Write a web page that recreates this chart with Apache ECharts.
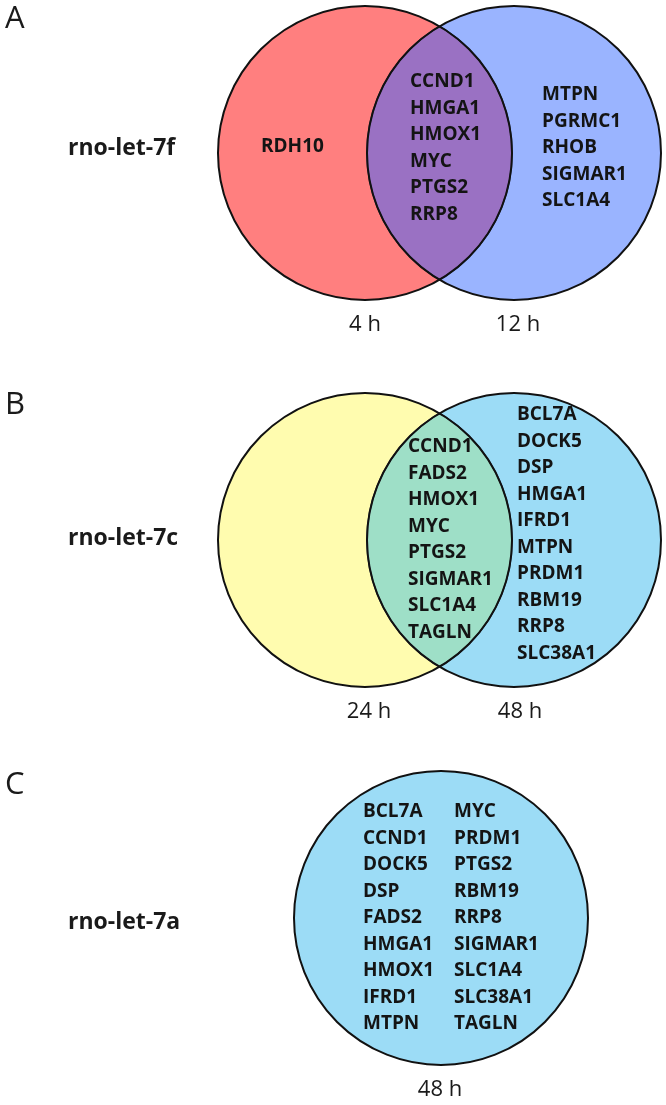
<!DOCTYPE html>
<html>
<head>
<meta charset="utf-8">
<script src="https://cdn.jsdelivr.net/npm/echarts@6/dist/echarts.min.js"></script>
<style>
html, body { margin: 0; padding: 0; background: #fff; }
#venn { width: 666px; height: 1105px; }
</style>
</head>
<body>
<div id="venn"></div>
<script>
// ---- data ----
// A: rno-let-7f, 4 h vs 12 h
var mirnaA = "rno-let-7f";
var setsA = ["4 h", "12 h"];
var only4h = ["RDH10"];
var shared4h12h = ["CCND1", "HMGA1", "HMOX1", "MYC", "PTGS2", "RRP8"];
var only12h = ["MTPN", "PGRMC1", "RHOB", "SIGMAR1", "SLC1A4"];

// B: rno-let-7c, 24 h vs 48 h
var mirnaB = "rno-let-7c";
var setsB = ["24 h", "48 h"];
var only24h = [];
var shared24h48h = ["CCND1", "FADS2", "HMOX1", "MYC", "PTGS2", "SIGMAR1", "SLC1A4", "TAGLN"];
var only48h = ["BCL7A", "DOCK5", "DSP", "HMGA1", "IFRD1", "MTPN", "PRDM1", "RBM19", "RRP8", "SLC38A1"];

// C: rno-let-7a, 48 h only
var mirnaC = "rno-let-7a";
var setsC = ["48 h"];
var genes48h = ["BCL7A", "CCND1", "DOCK5", "DSP", "FADS2", "HMGA1", "HMOX1", "IFRD1", "MTPN",
                "MYC", "PRDM1", "PTGS2", "RBM19", "RRP8", "SIGMAR1", "SLC1A4", "SLC38A1", "TAGLN"];

// ---- layout (page pixels, used as axis units) ----
var R = 147;
var ROW = 26.5;
var FONT = '"Open Sans", "DejaVu Sans", sans-serif';

var panels = [
  {
    letter: "A", mirna: mirnaA, sets: setsA, top: 0, height: 360,
    circles: [[365, 153], [514, 153]],
    fills: ["#ff7f7f", "#9ab4ff"], overlap: "#9a71c3",
    lists: [
      { genes: only4h, x: 261, y: 147 },
      { genes: shared4h12h, x: 410, y: 82 },
      { genes: only12h, x: 542, y: 95 }
    ],
    mirnaY: 148, letterY: 19, setY: 325, setX: [365, 518]
  },
  {
    letter: "B", mirna: mirnaB, sets: setsB, top: 360, height: 360,
    circles: [[365, 540], [514, 540]],
    fills: ["#fffcaf", "#9cdcf6"], overlap: "#9edfc7",
    lists: [
      { genes: only24h, x: 261, y: 540 },
      { genes: shared24h48h, x: 408, y: 447 },
      { genes: only48h, x: 517, y: 415 }
    ],
    mirnaY: 538, letterY: 405, setY: 712, setX: [369, 520]
  },
  {
    letter: "C", mirna: mirnaC, sets: setsC, top: 720, height: 385,
    circles: [[441, 918]],
    fills: ["#9cdcf6"], overlap: null,
    lists: [
      { genes: genes48h.slice(0, 9), x: 363, y: 812 },
      { genes: genes48h.slice(9), x: 454, y: 812 }
    ],
    mirnaY: 922, letterY: 785, setY: 1090, setX: [440]
  }
];

function lensPoints(a, b, r) {
  var dx = b[0] - a[0], dy = b[1] - a[1];
  var d = Math.sqrt(dx * dx + dy * dy);
  var th = Math.atan2(dy, dx);
  var al = Math.acos(d / 2 / r);
  var pts = [], n = 80, i, t;
  for (i = 0; i <= n; i++) {
    t = th - al + 2 * al * i / n;
    pts.push([a[0] + r * Math.cos(t), a[1] + r * Math.sin(t)]);
  }
  for (i = 0; i <= n; i++) {
    t = th + Math.PI - al + 2 * al * i / n;
    pts.push([b[0] + r * Math.cos(t), b[1] + r * Math.sin(t)]);
  }
  return pts;
}

var grids = [], xAxes = [], yAxes = [], series = [];

panels.forEach(function (p, gi) {
  grids.push({ left: 0, top: p.top, width: 666, height: p.height });
  xAxes.push({ gridIndex: gi, type: "value", min: 0, max: 666, show: false });
  yAxes.push({ gridIndex: gi, type: "value", min: p.top, max: p.top + p.height, inverse: true, show: false });

  // filled circles + set label under each one
  series.push({
    type: "custom", xAxisIndex: gi, yAxisIndex: gi, z: 1,
    data: p.sets.map(function (s, i) { return { name: s, value: p.circles[i] }; }),
    renderItem: function (params, api) {
      var c = api.coord([api.value(0), api.value(1)]);
      var r = api.size([R, 0])[0];
      var lab = api.coord([p.setX[params.dataIndex], p.setY]);
      return {
        type: "group",
        children: [
          { type: "circle", shape: { cx: c[0], cy: c[1], r: r }, style: { fill: p.fills[params.dataIndex] } },
          { type: "text", style: { text: p.sets[params.dataIndex], x: lab[0], y: lab[1], fill: "#1a1a1a",
            font: "22px " + FONT, textAlign: "center", textVerticalAlign: "middle" } }
        ]
      };
    }
  });

  // overlap lens
  if (p.overlap) {
    series.push({
      type: "custom", xAxisIndex: gi, yAxisIndex: gi, z: 2,
      data: [{ name: p.sets.join(" & "), value: [0] }],
      renderItem: function (params, api) {
        var a = api.coord(p.circles[0]), b = api.coord(p.circles[1]);
        var r = api.size([R, 0])[0];
        return {
          type: "polygon", shape: { points: lensPoints(a, b, r) },
          style: { fill: p.overlap, stroke: "#1f2f55", lineWidth: 1.4 }
        };
      }
    });
  }

  // outlines
  series.push({
    type: "custom", xAxisIndex: gi, yAxisIndex: gi, z: 3,
    data: p.circles.map(function (c, i) { return { name: p.sets[i], value: c }; }),
    renderItem: function (params, api) {
      var c = api.coord([api.value(0), api.value(1)]);
      var r = api.size([R, 0])[0];
      return {
        type: "circle", shape: { cx: c[0], cy: c[1], r: r },
        style: { fill: "none", stroke: "#111", lineWidth: 2 }
      };
    }
  });

  // gene names
  p.lists.forEach(function (list) {
    if (!list.genes.length) return;
    series.push({
      type: "custom", xAxisIndex: gi, yAxisIndex: gi, z: 4,
      data: list.genes.map(function (g, i) { return { name: g, value: [i] }; }),
      renderItem: function (params, api) {
        var pt = api.coord([list.x, list.y + api.value(0) * ROW]);
        return {
          type: "text",
          style: { text: list.genes[params.dataIndex], x: pt[0], y: pt[1], fill: "#141414",
            font: "bold 19px " + FONT, textAlign: "left", textVerticalAlign: "middle" }
        };
      }
    });
  });

  // panel letter and miRNA name
  series.push({
    type: "custom", xAxisIndex: gi, yAxisIndex: gi, z: 4,
    data: [{ name: p.mirna, value: [0] }],
    renderItem: function (params, api) {
      var l = api.coord([5, p.letterY]);
      var m = api.coord([68, p.mirnaY]);
      return {
        type: "group",
        children: [
          { type: "text", style: { text: p.letter, x: l[0], y: l[1], fill: "#1a1a1a",
            font: "31px " + FONT, textAlign: "left", textVerticalAlign: "middle" } },
          { type: "text", style: { text: p.mirna, x: m[0], y: m[1], fill: "#1a1a1a",
            font: "bold 23px " + FONT, textAlign: "left", textVerticalAlign: "middle" } }
        ]
      };
    }
  });
});

var myChart = echarts.init(document.getElementById("venn"));
myChart.setOption({
  animation: false,
  backgroundColor: "#fff",
  grid: grids,
  xAxis: xAxes,
  yAxis: yAxes,
  series: series
});
</script>
</body>
</html>
